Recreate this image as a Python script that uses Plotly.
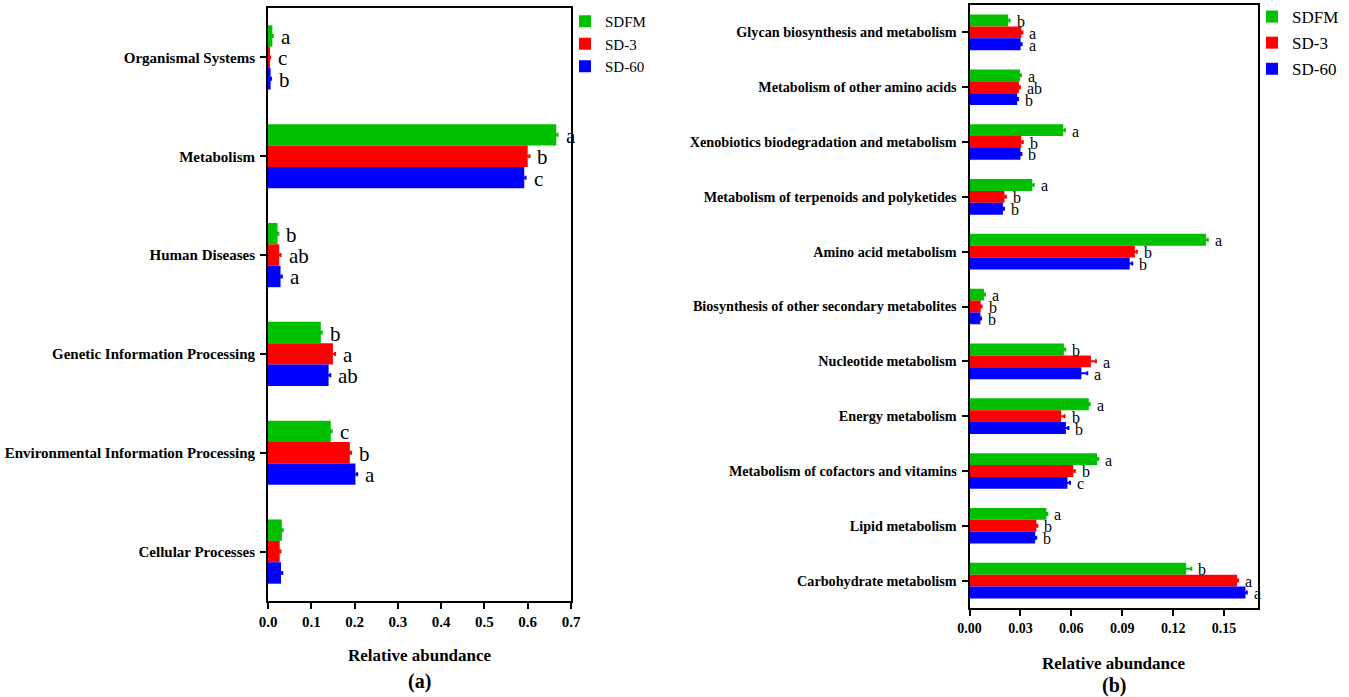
import plotly.graph_objects as go

# ---- data -------------------------------------------------------------
groups = ["SDFM", "SD-3", "SD-60"]
colors = ["#00c000", "#ff0000", "#0000ff"]

# (a) KEGG level 1
level1 = ["Organismal Systems", "Metabolism", "Human Diseases",
          "Genetic Information Processing", "Environmental Information Processing",
          "Cellular Processes"]
l1_sdfm = [0.010, 0.666, 0.022, 0.122, 0.145, 0.032]
l1_sd3 = [0.004, 0.600, 0.026, 0.150, 0.189, 0.027]
l1_sd60 = [0.006, 0.592, 0.029, 0.140, 0.202, 0.030]
l1_sdfm_err = [0.001, 0.003, 0.002, 0.002, 0.002, 0.002]
l1_sd3_err = [0.001, 0.004, 0.003, 0.005, 0.003, 0.002]
l1_sd60_err = [0.001, 0.003, 0.003, 0.004, 0.004, 0.003]
l1_sdfm_sig = ["a", "a", "b", "b", "c", ""]
l1_sd3_sig = ["c", "b", "ab", "a", "b", ""]
l1_sd60_sig = ["b", "c", "a", "ab", "a", ""]

# (b) KEGG level 2 (metabolism)
level2 = ["Glycan biosynthesis and metabolism", "Metabolism of other amino acids",
          "Xenobiotics biodegradation and metabolism",
          "Metabolism of terpenoids and polyketides", "Amino acid metabolism",
          "Biosynthesis of other secondary metabolites", "Nucleotide metabolism",
          "Energy metabolism", "Metabolism of cofactors and vitamins",
          "Lipid metabolism", "Carbohydrate metabolism"]
l2_sdfm = [0.0228, 0.0297, 0.0552, 0.0370, 0.1394, 0.0085, 0.0556, 0.0703, 0.0752, 0.0453, 0.1277]
l2_sd3 = [0.0306, 0.0291, 0.0306, 0.0206, 0.0974, 0.0066, 0.0715, 0.0540, 0.0612, 0.0394, 0.1577]
l2_sd60 = [0.0301, 0.0281, 0.0300, 0.0197, 0.0944, 0.0064, 0.0659, 0.0568, 0.0577, 0.0387, 0.1626]
l2_sdfm_err = [0.0008, 0.0006, 0.0010, 0.0008, 0.0010, 0.0006, 0.0008, 0.0005, 0.0007, 0.0006, 0.0030]
l2_sd3_err = [0.0006, 0.0006, 0.0008, 0.0008, 0.0012, 0.0005, 0.0030, 0.0020, 0.0008, 0.0006, 0.0006]
l2_sd60_err = [0.0006, 0.0005, 0.0006, 0.0006, 0.0015, 0.0004, 0.0035, 0.0015, 0.0015, 0.0006, 0.0008]
l2_sdfm_sig = ["b", "a", "a", "a", "a", "a", "b", "a", "a", "a", "b"]
l2_sd3_sig = ["a", "ab", "b", "b", "b", "b", "a", "b", "b", "b", "a"]
l2_sd60_sig = ["a", "b", "b", "b", "b", "b", "a", "b", "c", "b", "a"]

# ---- layout constants ---------------------------------------------------
W, H = 1349, 697
FONT = "Liberation Serif"
BARGAP = 0.35

panels = [
    dict(cats=level1, vals=[l1_sdfm, l1_sd3, l1_sd60], errs=[l1_sdfm_err, l1_sd3_err, l1_sd60_err],
         sig=[l1_sdfm_sig, l1_sd3_sig, l1_sd60_sig], xa="x", ya="y", legend="legend",
         px=(268, 571), py=(8, 601), sigsize=21, sigdx=6, tick=15, catsize=15),
    dict(cats=level2, vals=[l2_sdfm, l2_sd3, l2_sd60], errs=[l2_sdfm_err, l2_sd3_err, l2_sd60_err],
         sig=[l2_sdfm_sig, l2_sd3_sig, l2_sd60_sig], xa="x2", ya="y2", legend="legend2",
         px=(969.5, 1258), py=(5, 608), sigsize=16, sigdx=5, tick=14, catsize=14.2),
]

fig = go.Figure()
annotations = []

for p in panels:
    n = len(p["cats"])
    bar_px = (p["py"][1] - p["py"][0]) / n * (1 - BARGAP) / 3
    for i, g in enumerate(groups):
        fig.add_trace(go.Bar(
            y=p["cats"], x=p["vals"][i], name=g, orientation="h",
            marker=dict(color=colors[i], line=dict(width=0)),
            error_x=dict(type="data", array=p["errs"][i], color=colors[i],
                         thickness=2, width=2),
            xaxis=p["xa"], yaxis=p["ya"], legend=p["legend"], legendgroup=g,
        ))
        # significance letter just past each bar's error bar
        for c, v, e, s in zip(p["cats"], p["vals"][i], p["errs"][i], p["sig"][i]):
            if not s:
                continue
            annotations.append(dict(
                x=v + e, y=c, xref=p["xa"], yref=p["ya"], text=s, showarrow=False,
                xanchor="left", yanchor="middle", xshift=p["sigdx"],
                yshift=-(i - 1) * bar_px - 1,
                font=dict(family=FONT, size=p["sigsize"], color="black")))

# axis titles and panel tags
for cx, ty, tag_y, tag in [((268 + 571) / 2, 655, 681, "(a)"),
                           ((969.5 + 1258) / 2, 663, 685, "(b)")]:
    annotations.append(dict(x=cx / W, y=1 - ty / H, xref="paper", yref="paper",
                            text="<b>Relative abundance</b>", showarrow=False,
                            xanchor="center", yanchor="middle",
                            font=dict(family=FONT, size=17, color="black")))
    annotations.append(dict(x=cx / W, y=1 - tag_y / H, xref="paper", yref="paper",
                            text=f"<b>{tag}</b>", showarrow=False,
                            xanchor="center", yanchor="middle",
                            font=dict(family=FONT, size=20, color="black")))


def xaxis(p, rng, tickvals, fmt):
    return dict(domain=[p["px"][0] / W, p["px"][1] / W], range=rng, tickvals=tickvals,
                tickformat=fmt, showline=True, mirror=True, linecolor="black", linewidth=2,
                ticks="outside", ticklen=6, tickwidth=2, tickcolor="black",
                showgrid=False, zeroline=False, fixedrange=True, automargin=False,
                tickfont=dict(family=FONT, size=p["tick"], color="black", weight="bold"),
                anchor=p["ya"])


def yaxis(p):
    n = len(p["cats"])
    return dict(domain=[1 - p["py"][1] / H, 1 - p["py"][0] / H], range=[n - 0.5, -0.5],
                type="category", categoryorder="array", categoryarray=p["cats"],
                showline=True, mirror=True, linecolor="black", linewidth=2,
                ticks="outside", ticklen=6, tickwidth=2, tickcolor="black",
                ticklabelstandoff=2,
                showgrid=False, zeroline=False, fixedrange=True, automargin=False,
                tickfont=dict(family=FONT, size=p["catsize"], color="black", weight="bold"),
                anchor=p["xa"])


fig.update_layout(
    width=W, height=H, margin=dict(l=0, r=0, t=0, b=0, autoexpand=False),
    paper_bgcolor="white", plot_bgcolor="white",
    barmode="group", bargap=BARGAP, bargroupgap=0,
    font=dict(family=FONT, color="black"),
    xaxis=xaxis(panels[0], [0, 0.7], [0, 0.1, 0.2, 0.3, 0.4, 0.5, 0.6, 0.7], ".1f"),
    yaxis=yaxis(panels[0]),
    xaxis2=xaxis(panels[1], [0, 0.17], [0, 0.03, 0.06, 0.09, 0.12, 0.15], ".2f"),
    yaxis2=yaxis(panels[1]),
    legend=dict(x=565 / W, y=1 - 5 / H, xanchor="left", yanchor="top",
                traceorder="grouped", tracegroupgap=0, bgcolor="rgba(0,0,0,0)",
                font=dict(family=FONT, size=15, color="black")),
    legend2=dict(x=1252 / W, y=1 + 1 / H, xanchor="left", yanchor="top",
                 traceorder="grouped", tracegroupgap=1, bgcolor="rgba(0,0,0,0)",
                 font=dict(family=FONT, size=17, color="black")),
    annotations=annotations,
)

fig.write_html("out.html")
